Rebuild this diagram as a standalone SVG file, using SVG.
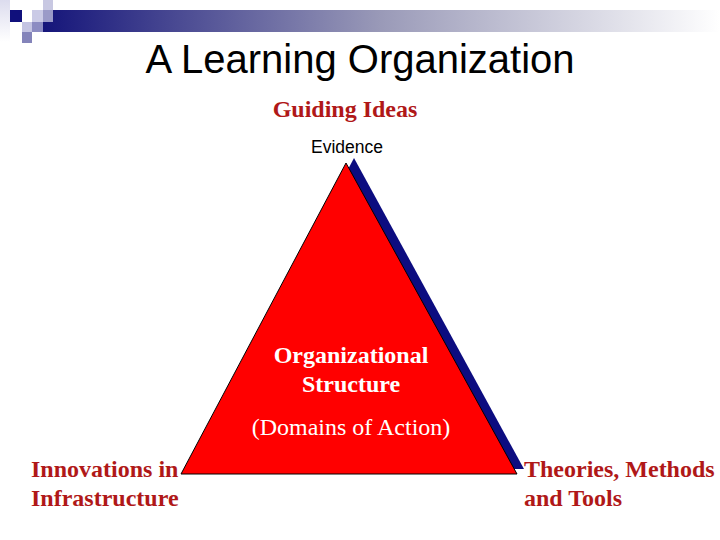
<svg xmlns="http://www.w3.org/2000/svg" width="720" height="540" viewBox="0 0 720 540">
<defs>
<linearGradient id="bar" x1="0" y1="0" x2="1" y2="0">
<stop offset="0" stop-color="#15157a"/>
<stop offset="0.5" stop-color="#9a9ab8"/>
<stop offset="1" stop-color="#ffffff"/>
</linearGradient>
<linearGradient id="col" x1="0" y1="0" x2="0" y2="1">
<stop offset="0" stop-color="#dcdcee"/>
<stop offset="1" stop-color="#ffffff"/>
</linearGradient>
<style>
.red{font-family:"Liberation Serif",serif;font-weight:bold;font-size:24px;fill:#b01818}
.wb{font-family:"Liberation Serif",serif;font-weight:bold;font-size:24px;fill:#ffffff}
.wr{font-family:"Liberation Serif",serif;font-size:24px;fill:#ffffff}
</style>
</defs>
<rect width="720" height="540" fill="#ffffff"/>
<g id="decoration">
<rect x="43" y="10" width="677" height="22" fill="url(#bar)"/>
<rect x="0" y="0" width="10" height="42" fill="url(#col)"/>
<rect x="10" y="10" width="12" height="12" fill="#10107c"/>
<rect x="43" y="0" width="10" height="10" fill="#c8c8e2"/>
<rect x="32" y="10" width="11" height="12" fill="#cacae6"/>
<rect x="43" y="10" width="10" height="12" fill="#9a9ac8"/>
<rect x="22" y="22" width="10" height="10" fill="#c4c4e2"/>
<rect x="32" y="22" width="11" height="10" fill="#8c8cc2"/>
<rect x="22" y="32" width="10" height="11" fill="#8484ba"/>
</g>
<text x="360" y="73" text-anchor="middle" font-family="Liberation Sans, sans-serif" font-size="40" fill="#000000">A Learning Organization</text>
<g id="triangle">
<polygon points="354,158 189,469 524,469" fill="#0c0c80"/>
<polygon points="346,163 181,474 517,474" fill="#ff0000" stroke="#000000" stroke-width="1"/>
</g>
<g id="guiding-ideas"><text x="345" y="117" text-anchor="middle" class="red">Guiding Ideas</text></g>
<g id="evidence"><text x="347" y="153" text-anchor="middle" font-family="Liberation Sans, sans-serif" font-size="17.5" fill="#000000">Evidence</text></g>
<g id="structure">
<text x="351" y="363" text-anchor="middle" class="wb">Organizational</text>
<text x="351" y="392" text-anchor="middle" class="wb">Structure</text>
<text x="351" y="435" text-anchor="middle" class="wr">(Domains of Action)</text>
</g>
<g id="innovations">
<text x="31" y="477" class="red">Innovations in</text>
<text x="31" y="506" class="red">Infrastructure</text>
</g>
<g id="theories">
<text x="524" y="477" class="red">Theories, Methods</text>
<text x="524" y="506" class="red">and Tools</text>
</g>
<g id="connectors"></g>
</svg>
